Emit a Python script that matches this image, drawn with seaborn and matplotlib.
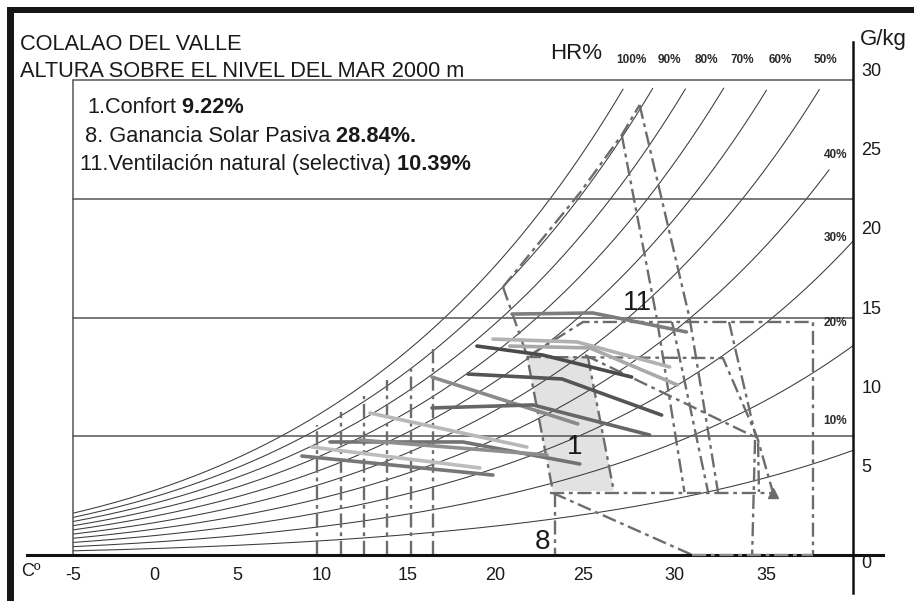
import numpy as np
import pandas as pd
import matplotlib
matplotlib.use("Agg")
import matplotlib.pyplot as plt
from matplotlib.patches import Rectangle, Polygon
import seaborn as sns

# ---------------------------------------------------------------- data
# saturation humidity ratio (g/kg) along the 100 % curve of the chart
sat_temp = [-5.03, 0.14, 4.98, 7.55, 11.84, 17.28, 23.12, 27.12, 28.66, 30.65, 32.56, 35.06, 37.79, 39.65]
sat_w = [2.59, 4.30, 6.13, 7.45, 10.10, 14.97, 22.55, 29.40, 32.70, 36.75, 42.00, 49.00, 58.80, 65.50]
rh_levels = [100, 90, 80, 70, 60, 50, 40, 30, 20, 10]
rh_top_labels = ["100%", "90%", "80%", "70%", "60%", "50%"]
rh_top_label_t = [27.67, 29.76, 31.75, 33.70, 35.75, 38.16]
rh_side_labels = ["40%", "30%", "20%", "10%"]
rh_side_label_w = [25.27, 20.03, 14.66, 8.46]

x_ticks = [-5, 0, 5, 10, 15, 20, 25, 30, 35]
y_ticks = [0, 5, 10, 15, 20, 25, 30]
w_grid = [7.5, 15.0, 22.5, 30.0]

# hourly climate lines (temperature C, humidity ratio g/kg)
line_names = [f"L{i}" for i in range(1, 13)]
line_t = [
    [20.98, 25.51, 30.68],
    [19.90, 24.63, 29.76],
    [20.86, 25.35, 30.19],
    [18.99, 22.72, 27.67],
    [18.48, 23.79, 29.32],
    [16.42, 24.68],
    [16.42, 22.16, 28.66],
    [12.83, 21.82],
    [10.49, 18.19, 24.79],
    [9.43, 19.16],
    [12.25, 22.95],
    [8.84, 19.90],
]
line_w = [
    [15.22, 15.29, 14.09],
    [13.64, 13.46, 11.88],
    [13.20, 13.08, 10.74],
    [13.20, 12.63, 11.24],
    [11.43, 11.12, 8.84],
    [11.24, 8.28],
    [9.29, 9.48, 7.58],
    [8.97, 6.82],
    [7.14, 7.14, 5.75],
    [6.82, 5.50],
    [7.26, 6.32],
    [6.25, 5.05],
]
line_colors = ["#7d7d7d", "#b2b2b2", "#a9a9a9", "#4b4b4b", "#555555", "#8a8a8a",
               "#666666", "#b8b8b8", "#737373", "#bdbdbd", "#8e8e8e", "#767676"]

# comfort zone (1)
comfort_t = [21.82, 25.24, 26.68, 23.28]
comfort_w = [12.63, 12.51, 4.04, 4.04]

# zone boundaries (dash-dot)
zone_t = [
    [20.47, 24.79, 27.12, 28.11],
    [20.47, 21.82, 23.28],
    [28.11, 30.85, 32.40],
    [27.12, 29.05, 30.57],
    [29.89, 31.86],
    [22.00, 24.97, 37.52, 37.52],
    [33.00, 34.46],
    [21.82, 32.67, 34.52, 35.38],
    [25.08, 34.41, 34.25],
    [34.57, 34.62],
    [23.12, 35.38],
    [23.40, 23.40],
    [23.28, 31.00],
    [25.24, 26.68],
]
zone_w = [
    [16.93, 22.87, 26.53, 28.43],
    [16.93, 12.63, 4.04],
    [28.43, 14.97, 3.98],
    [26.53, 14.97, 3.98],
    [14.72, 3.98],
    [12.63, 14.72, 14.72, 0.0],
    [14.72, 7.39],
    [12.51, 12.44, 7.45, 3.92],
    [12.63, 7.45, 0.0],
    [7.08, 3.98],
    [3.92, 3.92],
    [3.92, 0.0],
    [3.92, 0.0],
    [12.51, 4.04],
]
# boundary running along the temperature axis
base_t = [31.00, 37.52]
base_w = [0.0, 0.0]
# passive solar gain verticals (8)
solar_t = [9.73, 11.14, 12.48, 13.82, 15.21, 16.47]
solar_top_w = [8.21, 9.03, 10.04, 11.05, 12.13, 13.27]

# ---------------------------------------------------------------- style
sns.set_theme(style="white")
plt.rcParams["font.family"] = ["Liberation Sans", "DejaVu Sans"]
INK = "#1a1a1a"
ZONE = "#6c6c6c"
DASHDOT = (0, (6, 2, 1.6, 2))

W_PX, H_PX = 914, 601
fig = plt.figure(figsize=(W_PX / 100, H_PX / 100), dpi=100)
ax = fig.add_axes([0, 0, 1, 1])
ax.set_facecolor("white")


def fpx(x, y):
    """figure fraction from a pixel position"""
    return x / W_PX, 1 - y / H_PX


# mildly non-uniform temperature axis, as on the printed chart
C2 = 0.0018


def t_fwd(t):
    u = np.asarray(t, dtype=float) - 15.0
    return u + C2 * u ** 2


def t_inv(s):
    s = np.asarray(s, dtype=float)
    return 15.0 + (-1.0 + np.sqrt(np.maximum(1.0 + 4 * C2 * s, 1e-9))) / (2 * C2)


ax.set_xscale("function", functions=(t_fwd, t_inv))
ax.set_xlim(-9.625, 42.87)
ax.set_ylim(-2.906, 35.06)

T_LEFT, T_RIGHT = -5.03, 39.65

# relative humidity curves
coef = np.polyfit(sat_temp, np.log(sat_w), 3)
tt = np.linspace(T_LEFT, T_RIGHT, 600)
wsat = np.exp(np.polyval(coef, tt))
for rh in rh_levels:
    w = rh / 100.0 * wsat
    keep = w <= 29.5
    if rh == 40:
        keep &= tt <= 38.42
    ax.plot(tt[keep], w[keep], color="#3a3a3a", lw=0.75, zorder=2)

# horizontal reference lines and left border
for w in w_grid:
    ax.plot([T_LEFT, T_RIGHT], [w, w], color="#555555", lw=1.1, zorder=2)
ax.plot([T_LEFT, T_LEFT], [0, 30], color="#555555", lw=1.1, zorder=2)

# comfort zone fill
ax.add_patch(Polygon(np.column_stack([comfort_t, comfort_w]), closed=True,
                     facecolor="#e2e2e2", edgecolor="none", zorder=1))

# zone boundaries
for ts, ws in zip(zone_t, zone_w):
    ax.plot(ts, ws, color=ZONE, lw=1.7, ls=DASHDOT, zorder=3)
for t, wt in zip(solar_t, solar_top_w):
    ax.plot([t, t], [0, wt], color=ZONE, lw=1.7, ls=DASHDOT, zorder=3)
ax.plot(base_t, base_w, color="#8a8a8a", lw=1.7, ls=DASHDOT, zorder=8)
ax.plot([35.38], [3.92], marker="^", color=ZONE, ms=7, zorder=3)

# climate lines
rows = []
for name, ts, ws in zip(line_names, line_t, line_w):
    for t, w in zip(ts, ws):
        rows.append((name, t, w))
df = pd.DataFrame(rows, columns=["serie", "T", "W"])
sns.lineplot(data=df, x="T", y="W", hue="serie", palette=dict(zip(line_names, line_colors)),
             sort=False, estimator=None, legend=False, linewidth=2.6, ax=ax, zorder=5)

# axes: x along W = 0, y along the right edge
for s in ["top", "left"]:
    ax.spines[s].set_visible(False)
ax.spines["bottom"].set_position(("data", 0))
ax.spines["bottom"].set_bounds(-7.92, 41.23)
ax.spines["bottom"].set_linewidth(2.2)
ax.spines["bottom"].set_color("#111111")
ax.spines["right"].set_position(("data", T_RIGHT))
ax.spines["right"].set_bounds(-2.4, 32.4)
ax.spines["right"].set_linewidth(1.8)
ax.spines["right"].set_color("#111111")
ax.spines["bottom"].set_zorder(6)

ax.set_xticks(x_ticks)
ax.set_xticklabels([str(v) for v in x_ticks])
ax.set_yticks(y_ticks)
ax.set_yticklabels([str(v) for v in y_ticks])
ax.yaxis.tick_right()
ax.tick_params(axis="x", length=0, pad=9, labelsize=13, labelcolor=INK)
ax.tick_params(axis="y", length=0, pad=6, labelsize=13, labelcolor=INK)
for lab in ax.get_yticklabels():
    lab.set_va("top" if lab.get_text() == "0" else "bottom")
ax.set_xlabel("")
ax.set_ylabel("")
ax.grid(False)

# RH labels
for lab, t in zip(rh_top_labels, rh_top_label_t):
    ax.text(t, 31.27, lab, ha="center", va="center", fontsize=8.5, fontweight="bold", color="#2a2a2a")
for lab, w in zip(rh_side_labels, rh_side_label_w):
    ax.text(39.33, w, lab, ha="right", va="center", fontsize=8.5, fontweight="bold", color="#2a2a2a")
ax.text(24.58, 31.65, "HR%", ha="center", va="center", fontsize=16, color=INK)

# zone numbers
ax.text(28.01, 15.92, "11", ha="center", va="center", fontsize=20, color=INK, zorder=7)
ax.text(24.52, 6.82, "1", ha="center", va="center", fontsize=20, color=INK, zorder=7)
ax.text(22.68, 0.82, "8", ha="center", va="center", fontsize=20, color=INK, zorder=7)

# titles
fig.text(*fpx(20, 50), "COLALAO DEL VALLE", fontsize=15.7, color=INK, va="baseline")
fig.text(*fpx(20, 77), "ALTURA SOBRE EL NIVEL DEL MAR 2000 m", fontsize=15.7, color=INK, va="baseline")
fig.text(*fpx(883, 40), "G/kg", fontsize=16, color=INK, ha="center", va="center")
fig.text(*fpx(31, 572), "Cº", fontsize=13, color=INK, ha="center", va="center")

# strategy percentages
stats = [("1.Confort", " 9.22%", 87, 113),
         ("8. Ganancia Solar Pasiva", " 28.84%.", 85, 142),
         ("11.Ventilación natural (selectiva)", " 10.39%", 80, 170)]
for plain, bold, x0, y0 in stats:
    t1 = fig.text(*fpx(x0, y0), plain, fontsize=15.7, color=INK, va="baseline")
    ax.annotate(bold, xy=(1, 0), xycoords=t1, va="bottom", ha="left",
                fontsize=15.7, fontweight="bold", color=INK)

# frame
fig.add_artist(Rectangle(fpx(7, 13), (W_PX - 7) / W_PX, 6.5 / H_PX,
                         transform=fig.transFigure, color="#161616", lw=0))
fig.add_artist(Rectangle(fpx(7, H_PX), 6.5 / W_PX, (H_PX - 7) / H_PX,
                         transform=fig.transFigure, color="#161616", lw=0))

fig.savefig("out.png", dpi=100)
